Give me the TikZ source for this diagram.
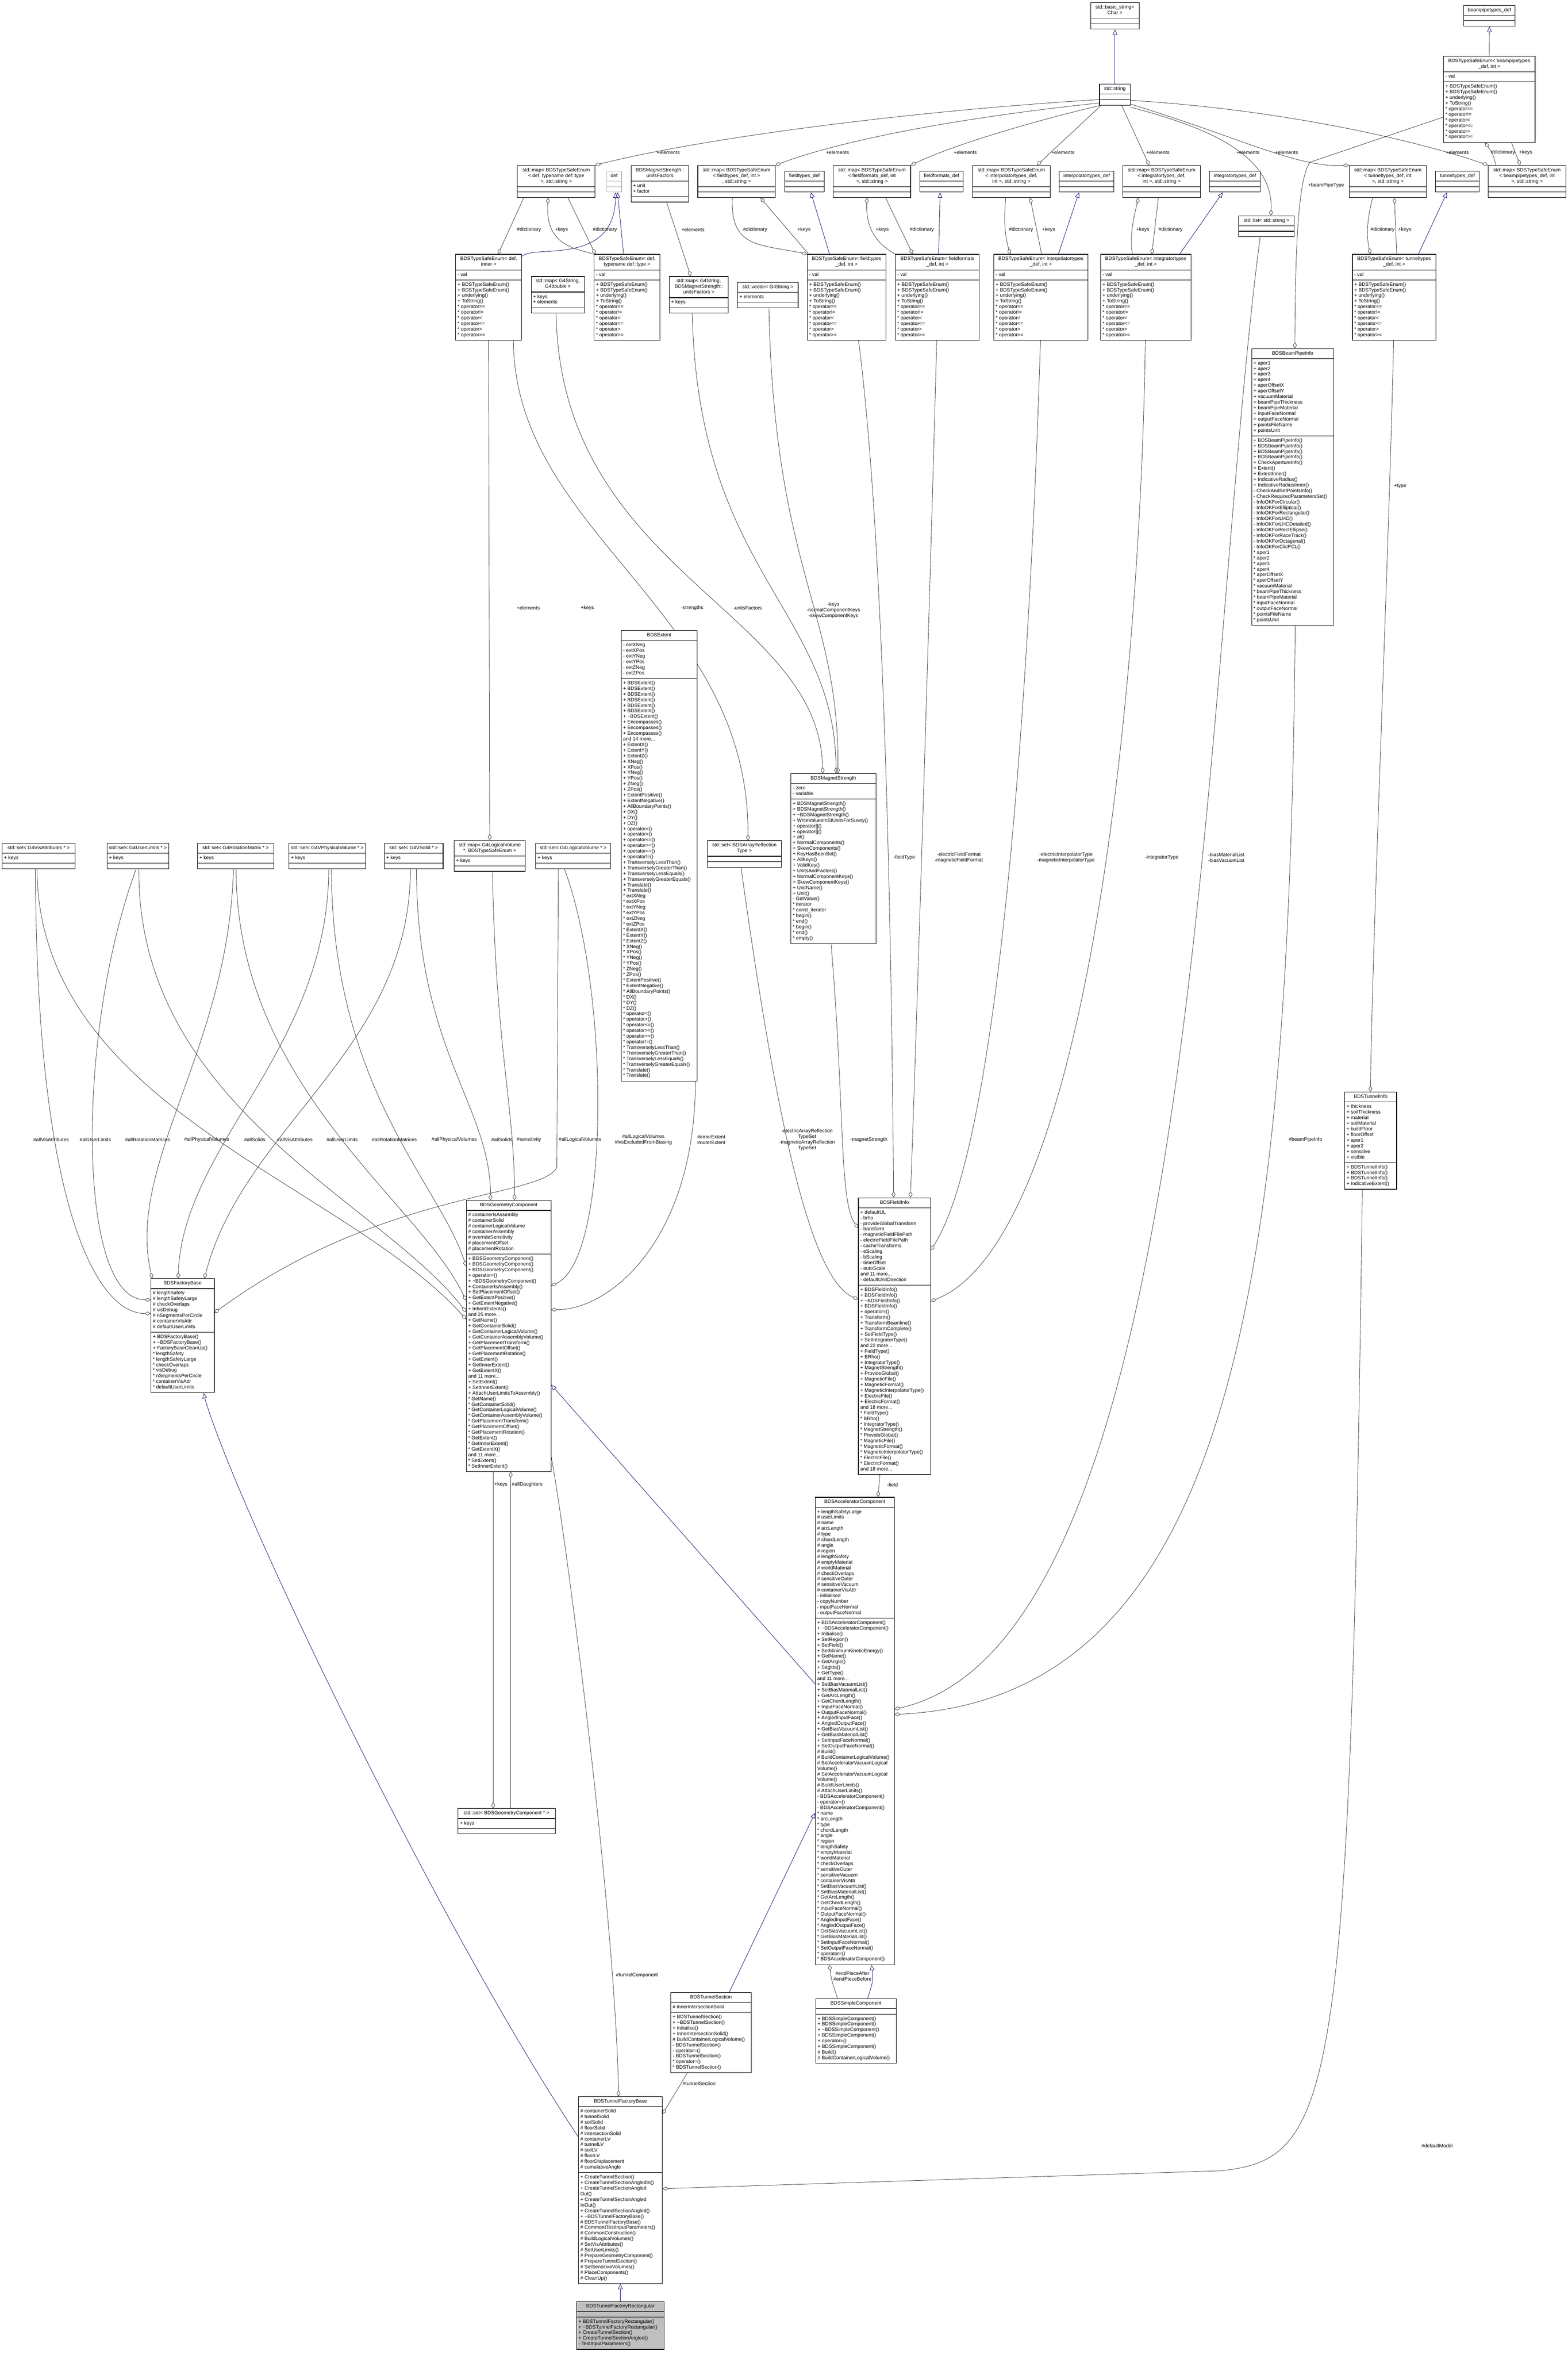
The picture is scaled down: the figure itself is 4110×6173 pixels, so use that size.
\documentclass[tikz,border=0pt]{standalone}
\usepackage{fontspec}
\setmainfont{Liberation Sans}
\usetikzlibrary{shapes.multipart,arrows.meta,calc,positioning}
\pgfdeclarelayer{edges}
\pgfsetlayers{edges,main}
\definecolor{edgegray}{HTML}{404040}
\definecolor{inhblue}{HTML}{191970}
\newcommand{\umlfont}{\fontsize{13}{14.7}\selectfont}
\newcommand{\tld}{\textasciitilde}
\newcommand{\tseops}{+ BDSTypeSafeEnum()\\+ BDSTypeSafeEnum()\\+ underlying()\\+ ToString()\\{*} operator==\\{*} operator!=\\{*} operator<\\{*} operator<=\\{*} operator>\\{*} operator>=}
\newcommand{\umlclass}[8][]{%
  \node[umlbox,minimum width=#5pt,#1] (#2) at (#3,#4) {%
    \begin{tabular}{@{}c@{}}#6\end{tabular}%
    \nodepart{two}\begin{tabular}{@{}l@{}}#7\end{tabular}%
    \nodepart{three}\begin{tabular}{@{}l@{}}#8\end{tabular}};}
\tikzset{
  umlbox/.style={rectangle split, rectangle split parts=3, draw=black, line width=1.4pt, fill=white,
    inner xsep=5pt, inner ysep=5pt, anchor=north west, rectangle split part align={center,left,left}, font=\umlfont},
  tplbox/.style={draw=gray!55},
  focusbox/.style={fill=gray!50},
  memberof/.style={draw=edgegray, line width=1.1pt, -{Diamond[open,length=16pt,width=10pt]}},
  inherit/.style={draw=inhblue, line width=1.1pt, -{Triangle[open,length=14pt,width=12pt]}},
  elabel/.style={font=\umlfont, inner sep=0pt, align=center}
}
\begin{document}
\begin{tikzpicture}[x=1pt,y=-1pt]
\useasboundingbox (0,0) rectangle (4110,6173);

\umlclass{bstr}{2859}{6}{127}{std::basic\_string<\\Char >}{}{}
\umlclass{str}{2882}{220}{81}{std::string}{}{}
\umlclass{bptdef}{3837}{13}{135}{beampipetypes\_def}{}{}
\umlclass{tseBP}{3784}{147}{240}{BDSTypeSafeEnum< beampipetypes\\\_def, int >}{- val}{\tseops}
\umlclass{mapBP}{3901}{433}{204}{std::map< BDSTypeSafeEnum\\< beampipetypes\_def, int\\>, std::string >}{}{}
\umlclass{ttdef}{3763}{448}{115}{tunneltypes\_def}{}{}
\umlclass{mapTT}{3537}{433}{202}{std::map< BDSTypeSafeEnum\\< tunneltypes\_def, int\\>, std::string >}{}{}
\umlclass{tseTT}{3545}{666}{219}{BDSTypeSafeEnum< tunneltypes\\\_def, int >}{- val}{\tseops}
\umlclass{lst}{3247}{565}{146}{std::list< std::string >}{}{}
\umlclass{intdef}{3170}{448}{134}{integratortypes\_def}{}{}
\umlclass{mapIT}{2943}{433}{204}{std::map< BDSTypeSafeEnum\\< integratortypes\_def,\\int >, std::string >}{}{}
\umlclass{tseIT}{2885}{666}{237}{BDSTypeSafeEnum< integratortypes\\\_def, int >}{- val}{\tseops}
\umlclass{ipdef}{2777}{448}{143}{interpolatortypes\_def}{}{}
\umlclass{mapIP}{2549}{433}{204}{std::map< BDSTypeSafeEnum\\< interpolatortypes\_def,\\int >, std::string >}{}{}
\umlclass{tseIP}{2605}{666}{247}{BDSTypeSafeEnum< interpolatortypes\\\_def, int >}{- val}{\tseops}
\umlclass{ffdef}{2411}{448}{114}{fieldformats\_def}{}{}
\umlclass{mapFF}{2184}{433}{203}{std::map< BDSTypeSafeEnum\\< fieldformats\_def, int\\>, std::string >}{}{}
\umlclass{tseFF}{2347}{666}{220}{BDSTypeSafeEnum< fieldformats\\\_def, int >}{- val}{\tseops}
\umlclass{ftdef}{2057}{448}{103}{fieldtypes\_def}{}{}
\umlclass{mapFT}{1829}{433}{203}{std::map< BDSTypeSafeEnum\\< fieldtypes\_def, int >\\, std::string >}{}{}
\umlclass{tseFT}{2116}{666}{206}{BDSTypeSafeEnum< fieldtypes\\\_def, int >}{- val}{\tseops}
\umlclass{units}{1654}{433}{151}{BDSMagnetStrength::\\unitsFactors}{+ unit\\+ factor}{}
\umlclass[tplbox]{def}{1590}{448}{39}{def}{}{}
\umlclass{mapDef}{1356}{433}{203}{std::map< BDSTypeSafeEnum\\< def, typename def::type\\>, std::string >}{}{}
\umlclass{tseDI}{1194}{666}{173}{BDSTypeSafeEnum< def,\\inner >}{- val}{\tseops}
\umlclass{mapGD}{1392}{724}{140}{std::map< G4String,\\G4double >}{+ keys\\+ elements}{}
\umlclass{tseDT}{1557}{666}{173}{BDSTypeSafeEnum< def,\\typename def::type >}{- val}{\tseops}
\umlclass{mapGU}{1754}{724}{155}{std::map< G4String,\\BDSMagnetStrength::\\unitsFactors >}{+ keys}{}
\umlclass{vecG}{1933}{739}{159}{std::vector< G4String >}{+ elements}{}

\umlclass{bpi}{3281}{913}{215}{BDSBeamPipeInfo}{+ aper1\\+ aper2\\+ aper3\\+ aper4\\+ aperOffsetX\\+ aperOffsetY\\+ vacuumMaterial\\+ beamPipeThickness\\+ beamPipeMaterial\\+ inputFaceNormal\\+ outputFaceNormal\\+ pointsFileName\\+ pointsUnit}{+ BDSBeamPipeInfo()\\+ BDSBeamPipeInfo()\\+ BDSBeamPipeInfo()\\+ BDSBeamPipeInfo()\\+ CheckApertureInfo()\\+ Extent()\\+ ExtentInner()\\+ IndicativeRadius()\\+ IndicativeRadiusInner()\\- CheckAndSetPointsInfo()\\- CheckRequiredParametersSet()\\- InfoOKForCircular()\\- InfoOKForElliptical()\\- InfoOKForRectangular()\\- InfoOKForLHC()\\- InfoOKForLHCDetailed()\\- InfoOKForRectEllipse()\\- InfoOKForRaceTrack()\\- InfoOKForOctagonal()\\- InfoOKForClicPCL()\\{*} aper1\\{*} aper2\\{*} aper3\\{*} aper4\\{*} aperOffsetX\\{*} aperOffsetY\\{*} vacuumMaterial\\{*} beamPipeThickness\\{*} beamPipeMaterial\\{*} inputFaceNormal\\{*} outputFaceNormal\\{*} pointsFileName\\{*} pointsUnit}

\umlclass{ext}{1628}{1652}{199}{BDSExtent}{- extXNeg\\- extXPos\\- extYNeg\\- extYPos\\- extZNeg\\- extZPos}{+ BDSExtent()\\+ BDSExtent()\\+ BDSExtent()\\+ BDSExtent()\\+ BDSExtent()\\+ BDSExtent()\\+ \tld BDSExtent()\\+ Encompasses()\\+ Encompasses()\\+ Encompasses()\\and 14 more...\\+ ExtentX()\\+ ExtentY()\\+ ExtentZ()\\+ XNeg()\\+ XPos()\\+ YNeg()\\+ YPos()\\+ ZNeg()\\+ ZPos()\\+ ExtentPositive()\\+ ExtentNegative()\\+ AllBoundaryPoints()\\+ DX()\\+ DY()\\+ DZ()\\+ operator<()\\+ operator>()\\+ operator<=()\\+ operator>=()\\+ operator==()\\+ operator!=()\\+ TransverselyLessThan()\\+ TransverselyGreaterThan()\\+ TransverselyLessEquals()\\+ TransverselyGreaterEquals()\\+ Translate()\\+ Translate()\\{*} extXNeg\\{*} extXPos\\{*} extYNeg\\{*} extYPos\\{*} extZNeg\\{*} extZPos\\{*} ExtentX()\\{*} ExtentY()\\{*} ExtentZ()\\{*} XNeg()\\{*} XPos()\\{*} YNeg()\\{*} YPos()\\{*} ZNeg()\\{*} ZPos()\\{*} ExtentPositive()\\{*} ExtentNegative()\\{*} AllBoundaryPoints()\\{*} DX()\\{*} DY()\\{*} DZ()\\{*} operator<()\\{*} operator>()\\{*} operator<=()\\{*} operator>=()\\{*} operator==()\\{*} operator!=()\\{*} TransverselyLessThan()\\{*} TransverselyGreaterThan()\\{*} TransverselyLessEquals()\\{*} TransverselyGreaterEquals()\\{*} Translate()\\{*} Translate()}

\umlclass{ms}{2073}{2027}{223}{BDSMagnetStrength}{- zero\\- variable}{+ BDSMagnetStrength()\\+ BDSMagnetStrength()\\+ \tld BDSMagnetStrength()\\+ WriteValuesInSIUnitsForSuvey()\\+ operator[]()\\+ operator[]()\\+ at()\\+ NormalComponents()\\+ SkewComponents()\\+ KeyHasBeenSet()\\+ AllKeys()\\+ ValidKey()\\+ UnitsAndFactors()\\+ NormalComponentKeys()\\+ SkewComponentKeys()\\+ UnitName()\\+ Unit()\\- GetValue()\\{*} iterator\\{*} const\_iterator\\{*} begin()\\{*} end()\\{*} begin()\\{*} end()\\{*} empty()}

\umlclass{setVis}{5}{2210}{191}{std::set< G4VisAttributes * >}{+ keys}{}
\umlclass{setUL}{280}{2210}{144}{std::set< G4UserLimits * >}{+ keys}{}
\umlclass{setRM}{517}{2210}{200}{std::set< G4RotationMatrix * >}{+ keys}{}
\umlclass{setPV}{757}{2210}{200}{std::set< G4VPhysicalVolume * >}{+ keys}{}
\umlclass{setSo}{1007}{2210}{154}{std::set< G4VSolid * >}{+ keys}{}
\umlclass{mapLV}{1190}{2202}{187}{std::map< G4LogicalVolume\\{}*, BDSTypeSafeEnum >}{+ keys}{}
\umlclass{setLV}{1404}{2210}{196}{std::set< G4LogicalVolume * >}{+ keys}{}
\umlclass{setAR}{1854}{2203}{194}{std::set< BDSArrayReflection\\Type >}{}{}

\umlclass{tinfo}{3525}{2862}{136}{BDSTunnelInfo}{+ thickness\\+ soilThickness\\+ material\\+ soilMaterial\\+ buildFloor\\+ floorOffset\\+ aper1\\+ aper2\\+ sensitive\\+ visible}{+ BDSTunnelInfo()\\+ BDSTunnelInfo()\\+ BDSTunnelInfo()\\+ IndicativeExtent()}

\umlclass{fi}{2250}{3139}{189}{BDSFieldInfo}{+ defaultUL\\- brho\\- provideGlobalTransform\\- transform\\- magneticFieldFilePath\\- electricFieldFilePath\\- cacheTransforms\\- eScaling\\- bScaling\\- timeOffset\\- autoScale\\and 11 more...\\- defaultUnitDirection}{+ BDSFieldInfo()\\+ BDSFieldInfo()\\+ \tld BDSFieldInfo()\\+ BDSFieldInfo()\\+ operator=()\\+ Transform()\\+ TransformBeamline()\\+ TransformComplete()\\+ SetFieldType()\\+ SetIntegratorType()\\and 22 more...\\+ FieldType()\\+ BRho()\\+ IntegratorType()\\+ MagnetStrength()\\+ ProvideGlobal()\\+ MagneticFile()\\+ MagneticFormat()\\+ MagneticInterpolatorType()\\+ ElectricFile()\\+ ElectricFormat()\\and 18 more...\\{*} FieldType()\\{*} BRho()\\{*} IntegratorType()\\{*} MagnetStrength()\\{*} ProvideGlobal()\\{*} MagneticFile()\\{*} MagneticFormat()\\{*} MagneticInterpolatorType()\\{*} ElectricFile()\\{*} ElectricFormat()\\and 18 more...}

\umlclass{geo}{1222}{3146}{222}{BDSGeometryComponent}{\# containerIsAssembly\\\# containerSolid\\\# containerLogicalVolume\\\# containerAssembly\\\# overrideSensitivity\\\# placementOffset\\\# placementRotation}{+ BDSGeometryComponent()\\+ BDSGeometryComponent()\\+ BDSGeometryComponent()\\+ operator=()\\+ \tld BDSGeometryComponent()\\+ ContainerIsAssembly()\\+ SetPlacementOffset()\\+ GetExtentPositive()\\+ GetExtentNegative()\\+ InheritExtents()\\and 25 more...\\+ GetName()\\+ GetContainerSolid()\\+ GetContainerLogicalVolume()\\+ GetContainerAssemblyVolume()\\+ GetPlacementTransform()\\+ GetPlacementOffset()\\+ GetPlacementRotation()\\+ GetExtent()\\+ GetInnerExtent()\\+ GetExtentX()\\and 11 more...\\+ SetExtent()\\+ SetInnerExtent()\\+ AttachUserLimitsToAssembly()\\{*} GetName()\\{*} GetContainerSolid()\\{*} GetContainerLogicalVolume()\\{*} GetContainerAssemblyVolume()\\{*} GetPlacementTransform()\\{*} GetPlacementOffset()\\{*} GetPlacementRotation()\\{*} GetExtent()\\{*} GetInnerExtent()\\{*} GetExtentX()\\and 11 more...\\{*} SetExtent()\\{*} SetInnerExtent()}

\umlclass{fb}{395}{3351}{166}{BDSFactoryBase}{\# lengthSafety\\\# lengthSafetyLarge\\\# checkOverlaps\\\# visDebug\\\# nSegmentsPerCircle\\\# containerVisAttr\\\# defaultUserLimits}{+ BDSFactoryBase()\\+ \tld BDSFactoryBase()\\+ FactoryBaseCleanUp()\\{*} lengthSafety\\{*} lengthSafetyLarge\\{*} checkOverlaps\\{*} visDebug\\{*} nSegmentsPerCircle\\{*} containerVisAttr\\{*} defaultUserLimits}

\umlclass{setGC}{1200}{4740}{255}{std::set< BDSGeometryComponent * >}{+ keys}{}

\umlclass{acc}{2137}{3924}{207}{BDSAcceleratorComponent}{+ lengthSafetyLarge\\\# userLimits\\\# name\\\# arcLength\\\# type\\\# chordLength\\\# angle\\\# region\\\# lengthSafety\\\# emptyMaterial\\\# worldMaterial\\\# checkOverlaps\\\# sensitiveOuter\\\# sensitiveVacuum\\\# containerVisAttr\\- initialised\\- copyNumber\\- inputFaceNormal\\- outputFaceNormal}{+ BDSAcceleratorComponent()\\+ \tld BDSAcceleratorComponent()\\+ Initialise()\\+ SetRegion()\\+ SetField()\\+ SetMinimumKineticEnergy()\\+ GetName()\\+ GetAngle()\\+ Sagitta()\\+ GetType()\\and 11 more...\\+ SetBiasVacuumList()\\+ SetBiasMaterialList()\\+ GetArcLength()\\+ GetChordLength()\\+ InputFaceNormal()\\+ OutputFaceNormal()\\+ AngledInputFace()\\+ AngledOutputFace()\\+ GetBiasVacuumList()\\+ GetBiasMaterialList()\\+ SetInputFaceNormal()\\+ SetOutputFaceNormal()\\\# Build()\\\# BuildContainerLogicalVolume()\\\# SetAcceleratorVacuumLogical\\Volume()\\\# SetAcceleratorVacuumLogical\\Volume()\\\# BuildUserLimits()\\\# AttachUserLimits()\\- BDSAcceleratorComponent()\\- operator=()\\- BDSAcceleratorComponent()\\{*} name\\{*} arcLength\\{*} type\\{*} chordLength\\{*} angle\\{*} region\\{*} lengthSafety\\{*} emptyMaterial\\{*} worldMaterial\\{*} checkOverlaps\\{*} sensitiveOuter\\{*} sensitiveVacuum\\{*} containerVisAttr\\{*} SetBiasVacuumList()\\{*} SetBiasMaterialList()\\{*} GetArcLength()\\{*} GetChordLength()\\{*} InputFaceNormal()\\{*} OutputFaceNormal()\\{*} AngledInputFace()\\{*} AngledOutputFace()\\{*} GetBiasVacuumList()\\{*} GetBiasMaterialList()\\{*} SetInputFaceNormal()\\{*} SetOutputFaceNormal()\\{*} operator=()\\{*} BDSAcceleratorComponent()}

\umlclass{ts}{1758}{5222}{211}{BDSTunnelSection}{\# innerIntersectionSolid}{+ BDSTunnelSection()\\+ \tld BDSTunnelSection()\\+ Initialise()\\+ InnerIntersectionSolid()\\\# BuildContainerLogicalVolume()\\- BDSTunnelSection()\\- operator=()\\- BDSTunnelSection()\\{*} operator=()\\{*} BDSTunnelSection()}
\umlclass{sc}{2138}{5238}{211}{BDSSimpleComponent}{}{+ BDSSimpleComponent()\\+ BDSSimpleComponent()\\+ \tld BDSSimpleComponent()\\+ BDSSimpleComponent()\\+ operator=()\\+ BDSSimpleComponent()\\\# Build()\\\# BuildContainerLogicalVolume()}
\umlclass{tfb}{1516}{5495}{220}{BDSTunnelFactoryBase}{\# containerSolid\\\# tunnelSolid\\\# soilSolid\\\# floorSolid\\\# intersectionSolid\\\# containerLV\\\# tunnelLV\\\# soilLV\\\# floorLV\\\# floorDisplacement\\\# cumulativeAngle}{+ CreateTunnelSection()\\+ CreateTunnelSectionAngledIn()\\+ CreateTunnelSectionAngled\\Out()\\+ CreateTunnelSectionAngled\\InOut()\\+ CreateTunnelSectionAngled()\\+ \tld BDSTunnelFactoryBase()\\\# BDSTunnelFactoryBase()\\\# CommontTestInputParameters()\\\# CommonConstruction()\\\# BuildLogicalVolumes()\\\# SetVisAttributes()\\\# SetUserLimits()\\\# PrepareGeometryComponent()\\\# PrepareTunnelSection()\\\# SetSensitiveVolumes()\\\# PlaceComponents()\\\# CleanUp()}
\umlclass[focusbox]{tfr}{1511}{6032}{230}{BDSTunnelFactoryRectangular}{}{+ BDSTunnelFactoryRectangular()\\+ \tld BDSTunnelFactoryRectangular()\\+ CreateTunnelSection()\\+ CreateTunnelSectionAngled()\\- TestInputParameters()}

\coordinate (bpKnee) at (3435,425);
\coordinate (lvDrop) at (1460,3060);
\coordinate (dmKnee) at (3200,5690);

\begin{pgfonlayer}{edges}
\draw[inherit] (str.north) -- (bstr.south);
\draw[inherit] (tseBP.north) -- (bptdef.south);
\draw[inherit] ($(tseTT.north west)+(174,0)$) -- ($(ttdef.south west)+(31,0)$);
\draw[inherit] ($(tseIT.north west)+(208,0)$) -- ($(intdef.south west)+(36,0)$);
\draw[inherit] ($(tseIP.north west)+(170,0)$) -- ($(ipdef.south west)+(52,0)$);
\draw[inherit] ($(tseFT.north west)+(59,0)$) -- ($(ftdef.south west)+(69,0)$);
\draw[inherit] ($(tseFF.north west)+(114,0)$) -- ($(ffdef.south west)+(54,0)$);
\draw[inherit] ($(tseDT.north west)+(78,0)$) -- ($(def.south west)+(29,0)$);
\draw[inherit] ($(tseDI.north east)+(0,6)$) .. controls (1400,640) and (1612,700) .. ($(def.south west)+(24,0)$);
\draw[inherit] ($(acc.north west)+(0,490)$) -- ($(geo.north east)+(0,484)$);
\draw[inherit] ($(ts.north west)+(154,0)$) -- ($(acc.north west)+(0,828)$);
\draw[inherit] ($(sc.north west)+(137,0)$) .. controls (2290,5190) .. ($(acc.south west)+(148,0)$);
\draw[inherit] (tfr.north) -- (tfb.south);
\draw[inherit] ($(tfb.north west)+(0,106)$) .. controls (1150,5050) and (620,3950) .. ($(fb.south west)+(138,0)$);

\draw[memberof] ($(str.north west)+(0,41)$) .. controls (2400,290) and (1850,360) .. (mapDef.north east);
\draw[memberof] ($(str.north west)+(0,50)$) .. controls (2500,310) and (2200,370) .. (mapFT.north east);
\draw[memberof] ($(str.north west)+(0,57)$) .. controls (2700,320) and (2500,380) .. (mapFF.north east);
\draw[memberof] ($(str.south west)+(5,0)$) -- ($(mapIP.north west)+(170,0)$);
\draw[memberof] ($(str.south west)+(59,0)$) -- ($(mapIT.north west)+(70,0)$);
\draw[memberof] ($(str.north east)+(0,61)$) .. controls (3150,330) and (3340,400) .. ($(lst.north west)+(85,0)$);
\draw[memberof] ($(str.north east)+(0,53)$) .. controls (3250,360) and (3400,440) .. (mapTT.north west);
\draw[memberof] ($(str.north east)+(0,43)$) .. controls (3400,290) and (3750,380) .. (mapBP.north west);

\draw[memberof] ($(mapBP.north west)+(21,0)$) .. controls (3915,405) .. ($(tseBP.south west)+(110,0)$);
\draw[memberof] ($(tseBP.south west)+(179,0)$) -- ($(mapBP.north west)+(85,0)$);
\draw[memberof] ($(mapTT.south west)+(62,0)$) .. controls (3580,590) and (3585,630) .. ($(tseTT.north west)+(48,0)$);
\draw[memberof] ($(tseTT.north west)+(117,0)$) -- ($(mapTT.south west)+(119,0)$);
\draw[memberof] ($(mapIP.south west)+(88,0)$) .. controls (2630,590) and (2638,630) .. ($(tseIP.north west)+(44,0)$);
\draw[memberof] ($(tseIP.north west)+(126,0)$) -- ($(mapIP.south west)+(152,0)$);
\draw[memberof] ($(tseIT.north west)+(84,0)$) .. controls (2962,620) and (2970,580) .. ($(mapIT.south west)+(42,0)$);
\draw[memberof] ($(mapIT.south west)+(94,0)$) -- ($(tseIT.north west)+(135,0)$);
\draw[memberof] ($(mapFT.south west)+(91,0)$) .. controls (1915,650) and (1990,640) .. (tseFT.north west);
\draw[memberof] ($(tseFT.north west)+(4,0)$) -- ($(mapFT.south west)+(165,0)$);
\draw[memberof] (tseFF.north west) .. controls (2300,640) and (2270,600) .. ($(mapFF.south west)+(89,0)$);
\draw[memberof] ($(mapFF.south west)+(138,0)$) -- ($(tseFF.north west)+(46,0)$);
\draw[memberof] ($(mapDef.south west)+(17,0)$) -- ($(tseDI.north west)+(112,0)$);
\draw[memberof] (tseDT.north west) .. controls (1500,650) and (1430,640) .. ($(mapDef.south west)+(81,0)$);
\draw[memberof] ($(mapDef.south west)+(133,0)$) -- ($(tseDT.north west)+(4,0)$);
\draw[memberof] ($(units.south west)+(94,0)$) -- ($(mapGU.north west)+(57,0)$);

\draw[memberof] ($(tseBP.north west)+(0,160)$) -- (bpKnee) .. controls (3400,470) and (3396,700) .. ($(bpi.north west)+(114,0)$);
\draw[memberof] ($(tseTT.south west)+(109,0)$) .. controls (3640,1500) and (3600,2400) .. ($(tinfo.north west)+(68,0)$);
\draw[memberof] ($(lst.south west)+(57,0)$) .. controls (3150,1800) and (3150,4300) .. ($(acc.north east)+(0,556)$);
\draw[memberof] ($(bpi.south west)+(115,0)$) .. controls (3380,3300) and (3250,4450) .. ($(acc.north east)+(0,570)$);

\draw[memberof] ($(tseFT.south west)+(135,0)$) .. controls (2330,1500) and (2340,2800) .. ($(fi.north west)+(93,0)$);
\draw[memberof] ($(tseFF.south west)+(109,0)$) .. controls (2440,1500) and (2400,2800) .. ($(fi.north west)+(137,0)$);
\draw[memberof] ($(tseIP.south west)+(123,0)$) .. controls (2700,1800) and (2620,3000) .. ($(fi.north east)+(0,138)$);
\draw[memberof] ($(tseIT.south west)+(118,0)$) .. controls (2990,1800) and (2850,3250) .. ($(fi.north east)+(0,272)$);
\draw[memberof] ($(ms.south west)+(106,0)$) .. controls (2215,2900) and (2200,3150) .. ($(fi.north west)+(0,80)$);
\draw[memberof] ($(setAR.south west)+(89,0)$) .. controls (2030,2900) and (2120,3350) .. ($(fi.north west)+(0,267)$);
\draw[memberof] ($(fi.south west)+(57,0)$) -- ($(acc.north west)+(165,0)$);
\draw[memberof] ($(sc.north west)+(58,0)$) .. controls (2180,5190) .. ($(acc.south west)+(38,0)$);

\draw[memberof] ($(tseDI.south west)+(87,0)$) -- ($(mapLV.north west)+(94,0)$);
\draw[memberof] ($(tseDI.south west)+(152,0)$) .. controls (1350,1400) and (1965,1600) .. ($(setAR.north west)+(107,0)$);
\draw[memberof] ($(mapGD.south west)+(66,0)$) .. controls (1470,1500) and (2150,1600) .. ($(ms.north west)+(84,0)$);
\draw[memberof] ($(mapGU.south west)+(61,0)$) .. controls (1830,1500) and (2190,1600) .. ($(ms.north west)+(119,0)$);
\draw[memberof] ($(vecG.south west)+(83,0)$) .. controls (2030,1500) and (2200,1600) .. ($(ms.north west)+(124,0)$);

\draw[memberof] ($(setVis.south west)+(88,0)$) .. controls (95,3150) and (250,3443) .. ($(fb.north west)+(0,92)$);
\draw[memberof] ($(setUL.south west)+(77,0)$) .. controls (200,2700) and (200,3407) .. ($(fb.north west)+(0,56)$);
\draw[memberof] ($(setRM.south west)+(95,0)$) .. controls (600,2750) and (330,3050) .. ($(fb.north west)+(4,0)$);
\draw[memberof] ($(setPV.south west)+(105,0)$) .. controls (860,2750) and (480,3000) .. ($(fb.north west)+(72,0)$);
\draw[memberof] ($(setSo.south west)+(69,0)$) .. controls (1076,2750) and (640,2950) .. ($(fb.north west)+(141,0)$);
\draw[memberof] ($(setVis.south west)+(92,0)$) .. controls (100,2900) and (900,3100) .. ($(geo.north west)+(0,312)$);
\draw[memberof] ($(setUL.south west)+(84,0)$) .. controls (360,2900) and (1000,3150) .. ($(geo.north west)+(0,293)$);
\draw[memberof] ($(setRM.south west)+(102,0)$) .. controls (620,2850) and (1100,3150) .. ($(geo.north west)+(0,263)$);
\draw[memberof] ($(setPV.south west)+(112,0)$) .. controls (870,2850) and (1150,3100) .. ($(geo.north west)+(0,173)$);
\draw[memberof] ($(setSo.south west)+(85,0)$) .. controls (1092,2750) and (1286,2900) .. ($(geo.north west)+(64,0)$);
\draw[memberof] ($(mapLV.south west)+(101,0)$) .. controls (1300,2750) and (1349,2900) .. ($(geo.north west)+(127,0)$);
\draw[memberof] ($(setLV.south west)+(60,0)$) -- (lvDrop) .. controls (1420,3140) and (1000,3120) .. ($(fb.north east)+(0,90)$);
\draw[memberof] ($(setLV.south west)+(76,0)$) .. controls (1600,2600) and (1600,3300) .. ($(geo.north east)+(0,224)$);
\draw[memberof] ($(ext.south east)+(-5,0)$) .. controls (1822,3250) and (1600,3433) .. ($(geo.north east)+(0,287)$);
\draw[memberof] ($(geo.south west)+(71,0)$) -- ($(setGC.north west)+(93,0)$);
\draw[memberof] ($(setGC.north west)+(139,0)$) -- ($(geo.south west)+(117,0)$);
\draw[memberof] ($(geo.north east)+(0,673)$) .. controls (1480,4000) and (1612,5000) .. ($(tfb.north west)+(106,0)$);
\draw[memberof] ($(ts.south west)+(44,0)$) -- ($(tfb.north east)+(0,46)$);
\draw[memberof] ($(tinfo.south west)+(47,0)$) .. controls (3540,5500) and (3500,5660) .. (dmKnee) -- ($(tfb.north east)+(0,242)$);
\end{pgfonlayer}

\node[elabel] (lbElemDef) at (1752,400) {+elements};
\node[elabel] (lbElemFT) at (2196,400) {+elements};
\node[elabel] (lbElemFF) at (2531,400) {+elements};
\node[elabel] (lbElemIP) at (2787,400) {+elements};
\node[elabel] (lbElemIT) at (3036,400) {+elements};
\node[elabel] (lbElemLst) at (3272,400) {+elements};
\node[elabel] (lbElemTT) at (3373,400) {+elements};
\node[elabel] (lbElemBP) at (3821,400) {+elements};
\node[elabel] (lbDictBP) at (3941,400) {\#dictionary};
\node[elabel] (lbKeysBP) at (4000,400) {+keys};
\node[elabel] (lbBPType) at (3477,486) {+beamPipeType};
\node[elabel] (lbDictTT) at (3625,602) {\#dictionary};
\node[elabel] (lbKeysTT) at (3683,602) {+keys};
\node[elabel] (lbDictIP) at (2677,602) {\#dictionary};
\node[elabel] (lbKeysIP) at (2749,602) {+keys};
\node[elabel] (lbKeysIT) at (2996,602) {+keys};
\node[elabel] (lbDictIT) at (3069,602) {\#dictionary};
\node[elabel] (lbDictFT) at (1980,602) {\#dictionary};
\node[elabel] (lbKeysFT) at (2108,602) {+keys};
\node[elabel] (lbKeysFF) at (2313,602) {+keys};
\node[elabel] (lbDictFF) at (2417,602) {\#dictionary};
\node[elabel] (lbDictDI) at (1387,602) {\#dictionary};
\node[elabel] (lbKeysDT) at (1472,602) {+keys};
\node[elabel] (lbDictDT) at (1586,602) {\#dictionary};
\node[elabel] (lbElemUF) at (1817,602) {+elements};
\node[elabel] (lbType) at (3671,1274) {+type};
\node[elabel] (lbElemLV) at (1385,1593) {+elements};
\node[elabel] (lbKeysAR) at (1540,1593) {+keys};
\node[elabel] (lbStrengths) at (1815,1593) {-strengths};
\node[elabel] (lbUnitsF) at (1960,1593) {-unitsFactors};
\node[elabel] (lbKeysMS) at (2185,1600) {-keys\\-normalComponentKeys\\-skewComponentKeys};
\node[elabel] (lbFieldType) at (2371,2248) {-fieldType};
\node[elabel] (lbFieldFmt) at (2514,2248) {-electricFieldFormat\\-magneticFieldFormat};
\node[elabel] (lbInterp) at (2795,2248) {-electricInterpolatorType\\-magneticInterpolatorType};
\node[elabel] (lbInteg) at (3046,2248) {-integratorType};
\node[elabel] (lbBias) at (3215,2248) {-biasMaterialList\\-biasVacuumList};
\node[elabel] (lbVisF) at (134,2987) {\#allVisAttributes};
\node[elabel] (lbULF) at (250,2987) {\#allUserLimits};
\node[elabel] (lbRMF) at (387,2987) {\#allRotationMatrices};
\node[elabel] (lbPVF) at (542,2987) {\#allPhysicalVolumes};
\node[elabel] (lbSoF) at (668,2987) {\#allSolids};
\node[elabel] (lbVisG) at (773,2987) {\#allVisAttributes};
\node[elabel] (lbULG) at (897,2987) {\#allUserLimits};
\node[elabel] (lbRMG) at (1034,2987) {\#allRotationMatrices};
\node[elabel] (lbPVG) at (1191,2987) {\#allPhysicalVolumes};
\node[elabel] (lbSoG) at (1316,2987) {\#allSolids};
\node[elabel] (lbSens) at (1387,2987) {\#sensitivity};
\node[elabel] (lbLVF) at (1521,2987) {\#allLogicalVolumes};
\node[elabel] (lbLVG) at (1687,2987) {\#allLogicalVolumes\\\#lvsExcludedFromBiasing};
\node[elabel] (lbExt) at (1865,2987) {\#innerExtent\\\#outerExtent};
\node[elabel] (lbRefl) at (2116,2987) {-electricArrayReflection\\TypeSet\\-magneticArrayReflection\\TypeSet};
\node[elabel] (lbMagStr) at (2278,2987) {-magnetStrength};
\node[elabel] (lbBPInfo) at (3423,2987) {\#beamPipeInfo};
\node[elabel] (lbField) at (2340,3892) {-field};
\node[elabel,anchor=west] (lbKeysGC) at (1296,3891) {+keys};
\node[elabel,anchor=west] (lbDaughters) at (1342,3891) {\#allDaughters};
\node[elabel] (lbTunnelComp) at (1670,5178) {\#tunnelComponent};
\node[elabel] (lbTunnelSec) at (1833,5461) {\#tunnelSection};
\node[elabel] (lbEndPiece) at (2235,5180) {\#endPieceAfter\\\#endPieceBefore};
\node[elabel] (lbDefault) at (3768,5625) {\#defaultModel};
\end{tikzpicture}
\end{document}
